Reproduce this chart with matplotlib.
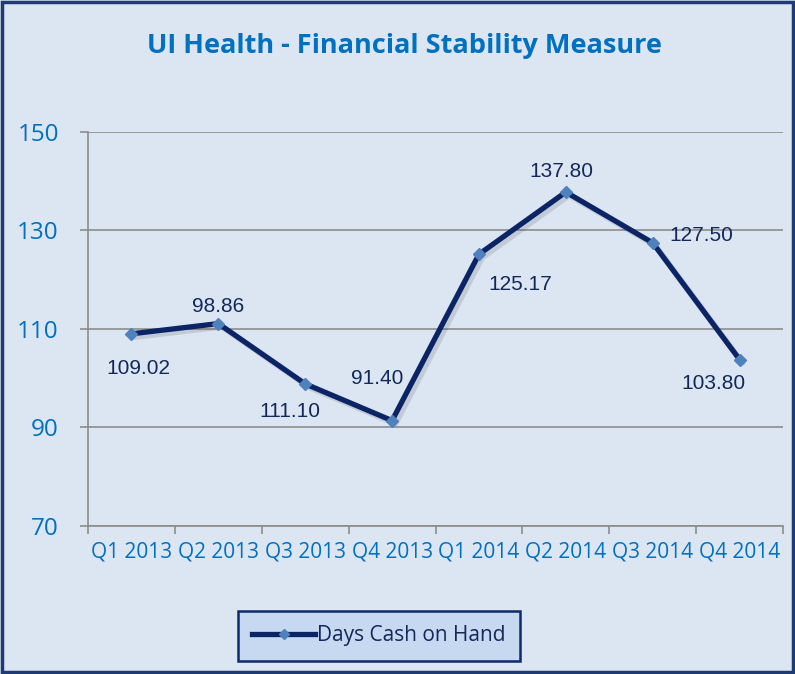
import numpy as np
import matplotlib
matplotlib.use("Agg")
import matplotlib.pyplot as plt
import matplotlib.patheffects as pe
from matplotlib.patches import Rectangle
from matplotlib.lines import Line2D

# data (labels as printed on the chart)
quarters = ["Q1 2013", "Q2 2013", "Q3 2013", "Q4 2013",
            "Q1 2014", "Q2 2014", "Q3 2014", "Q4 2014"]
days_cash = [109.02, 111.10, 98.86, 91.40, 125.17, 137.80, 127.50, 103.80]
point_labels = ["109.02", "98.86", "111.10", "91.40",
                "125.17", "137.80", "127.50", "103.80"]
y_ticks = [70, 90, 110, 130, 150]

# label offsets in points (style only)
label_offsets = [(5, -25), (0, 12), (-11, -20), (-11, 30),
                 (30, -22), (-3, 15), (35, 5.5), (-19, -17)]

bg = "#DCE6F2"
navy = "#0A2466"
blue_txt = "#0070C0"
grid_c = "#8C8C8C"

fig = plt.figure(figsize=(7.95, 6.74), dpi=100, facecolor=bg)
ax = fig.add_axes([88 / 795, 1 - 526 / 674, (783 - 88) / 795, (526 - 132) / 674])
ax.set_facecolor(bg)

x = np.arange(len(quarters))
ax.plot(x, days_cash, color=navy, linewidth=3.8, solid_joinstyle="round",
        solid_capstyle="round", zorder=3,
        path_effects=[pe.SimpleLineShadow(offset=(2.5, -2.5), alpha=0.15, shadow_color="#333333"),
                      pe.Normal()])
ax.plot(x, days_cash, linestyle="none", marker="D", markersize=6,
        color="#4F81BD", markeredgecolor="#4F81BD", zorder=4)

for xi, yi, lab, off in zip(x, days_cash, point_labels, label_offsets):
    ax.annotate(lab, (xi, yi), xytext=off, textcoords="offset points",
                ha="center", va="center", fontsize=15, color="#13285A",
                family="Liberation Sans", zorder=5)

ax.set_xlim(-0.5, len(quarters) - 0.5)
ax.set_ylim(70, 150)
ax.set_yticks(y_ticks)
ax.set_yticklabels([str(v) for v in y_ticks], fontsize=17.5, color=blue_txt, family="Open Sans")
ax.tick_params(axis="y", length=6, width=1.2, color=grid_c, pad=15)

ax.set_xticks(np.arange(-0.5, len(quarters), 1))
ax.set_xticklabels([])
ax.tick_params(axis="x", which="major", length=6, width=1.2, color=grid_c)
ax.set_xticks(x, minor=True)
ax.set_xticklabels(quarters, minor=True, fontsize=15, color=blue_txt, family="Open Sans")
ax.tick_params(axis="x", which="minor", length=0, pad=11)

ax.grid(axis="y", color=grid_c, linewidth=1.2)
ax.set_axisbelow(True)
for s in ["top", "right"]:
    ax.spines[s].set_visible(False)
for s in ["left", "bottom"]:
    ax.spines[s].set_color(grid_c)
    ax.spines[s].set_linewidth(1.2)

fig.text(404 / 795, 1 - 46 / 674, "UI Health - Financial Stability Measure",
         ha="center", va="center", fontsize=19.5, fontweight="bold",
         color=blue_txt, family="Open Sans")

leg_handle = Line2D([], [], color=navy, linewidth=3.8, marker="D", markersize=5,
                    markerfacecolor="#4F81BD", markeredgecolor="#4F81BD")
leg = fig.legend([leg_handle], ["Days Cash on Hand"], loc="center",
                 bbox_to_anchor=(379 / 795, 1 - 636 / 674), frameon=True,
                 fancybox=False, handlelength=3.0, handletextpad=0.1,
                 borderpad=0.7, borderaxespad=0,
                 prop={"family": "Open Sans", "size": 15})
leg.get_frame().set_facecolor("#C6D9F0")
leg.get_frame().set_edgecolor("#0D2A6B")
leg.get_frame().set_linewidth(1.8)
leg.get_frame().set_alpha(1)
for t in leg.get_texts():
    t.set_color("#13285A")

fig.patches.append(Rectangle((0.003, 0.003), 0.994, 0.994, transform=fig.transFigure,
                             fill=False, edgecolor="#1F3B73", linewidth=2.5))

fig.savefig("out.png", dpi=100, facecolor=bg)
